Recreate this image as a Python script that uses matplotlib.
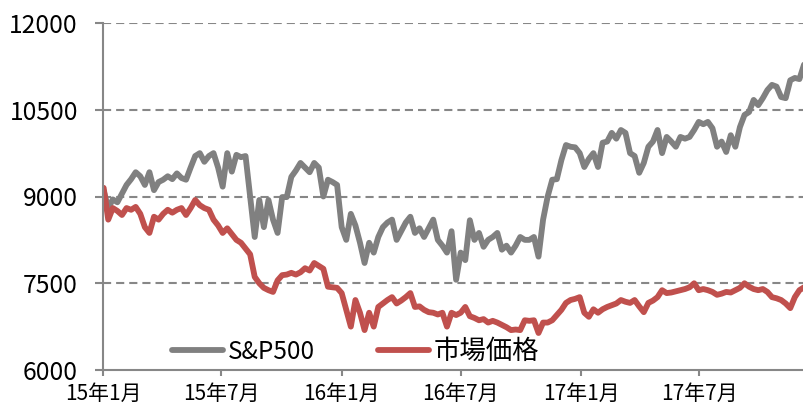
import numpy as np
import pandas as pd
import matplotlib
matplotlib.use("Agg")
import matplotlib.pyplot as plt
import matplotlib.dates as mdates
from matplotlib.ticker import FuncFormatter

plt.rcParams['font.family'] = ['Noto Sans CJK JP', 'DejaVu Sans']

# weekly closes, first Friday of 2015 onwards
start = "2015-01-02"

sp500 = [
    9100, 8800, 8950, 8900, 9050, 9200, 9300, 9420, 9350, 9200,
    9420, 9110, 9250, 9290, 9350, 9300, 9400, 9320, 9290, 9500,
    9700, 9750, 9600, 9700, 9750, 9500, 9170, 9750, 9430, 9720,
    9680, 9700, 9000, 8300, 8940, 8470, 8940, 8600, 8370, 8990,
    8990, 9340, 9450, 9580, 9500, 9420, 9580, 9500, 9000, 9290,
    9250, 9200, 8470, 8250, 8700, 8500, 8200, 7850, 8200, 8030,
    8300, 8470, 8550, 8600, 8250, 8400, 8550, 8650, 8370, 8450,
    8300, 8450, 8600, 8250, 8150, 8030, 8400, 7560, 8030, 7900,
    8590, 8250, 8370, 8130, 8250, 8300, 8370, 8080, 8150, 8030,
    8150, 8300, 8250, 8250, 8300, 7960, 8600, 9000, 9290, 9300,
    9630, 9890, 9860, 9850, 9750, 9510, 9650, 9750, 9510, 9930,
    9950, 10100, 10000, 10150, 10100, 9750, 9700, 9410, 9580, 9860,
    9950, 10150, 9750, 10030, 9950, 9860, 10030, 10000, 10030, 10150,
    10290, 10250, 10290, 10180, 9860, 9950, 9770, 10060, 9860, 10200,
    10410, 10460, 10670, 10580, 10700, 10840, 10930, 10900, 10720, 10700,
    11010, 11050, 11030, 11280,
]

market = [
    9150, 8600, 8800, 8750, 8680, 8800, 8770, 8820, 8700, 8470,
    8370, 8650, 8600, 8700, 8770, 8720, 8770, 8800, 8680, 8800,
    8940, 8850, 8800, 8770, 8600, 8500, 8370, 8450, 8350, 8250,
    8200, 8100, 8000, 7610, 7500, 7420, 7380, 7350, 7550, 7640,
    7650, 7680, 7650, 7690, 7760, 7720, 7850, 7800, 7750, 7440,
    7430, 7420, 7330, 7040, 6750, 7210, 6990, 6690, 6990, 6750,
    7090, 7150, 7210, 7260, 7150, 7200, 7260, 7330, 7090, 7100,
    7040, 7000, 6990, 6960, 6990, 6750, 6990, 6950, 6990, 7090,
    6930, 6900, 6860, 6880, 6820, 6850, 6820, 6780, 6740, 6690,
    6700, 6690, 6860, 6850, 6860, 6640, 6820, 6820, 6860, 6950,
    7040, 7160, 7210, 7230, 7260, 6990, 6920, 7050, 6990, 7050,
    7090, 7120, 7150, 7210, 7180, 7160, 7210, 7100, 7000, 7160,
    7200, 7260, 7380, 7330, 7340, 7360, 7380, 7400, 7430, 7500,
    7380, 7400, 7380, 7350, 7300, 7320, 7350, 7340, 7380, 7420,
    7500, 7440, 7400, 7380, 7400, 7350, 7260, 7240, 7210, 7150,
    7070, 7260, 7380, 7430,
]

names = ["S&P500", "市場価格"]
yticks = [6000, 7500, 9000, 10500, 12000]

dates = pd.date_range(start, periods=len(sp500), freq="7D")

fig = plt.figure(figsize=(8.04, 4.07), dpi=100)
ax = fig.add_axes([103 / 804, 37 / 407, 701 / 804, 347 / 407])

ax.plot(dates, sp500, color="#808080", lw=4.2, label=names[0],
        solid_joinstyle="round", solid_capstyle="round")
ax.plot(dates, market, color="#c0504d", lw=4.2, label=names[1],
        solid_joinstyle="round", solid_capstyle="round")

ax.set_xlim(pd.Timestamp("2015-01-01"), dates[-1])
ax.set_ylim(6000, 12000)
ax.set_yticks(yticks)
ax.yaxis.set_major_formatter(FuncFormatter(lambda v, p: f"{int(v)}"))

ax.xaxis.set_major_locator(mdates.MonthLocator(bymonth=[1, 7]))
ax.xaxis.set_major_formatter(FuncFormatter(
    lambda v, p: f"{mdates.num2date(v).year % 100}年{mdates.num2date(v).month}月"))

grid_col = "#878787"
for y in yticks[1:]:
    ax.axhline(y, color=grid_col, lw=1.5, ls=(0, (3.9, 2.4)), zorder=0)

for s in ["top", "right"]:
    ax.spines[s].set_visible(False)
for s in ["left", "bottom"]:
    ax.spines[s].set_color(grid_col)
    ax.spines[s].set_linewidth(1.5)

ax.tick_params(axis="y", direction="out", length=6, width=1.5, color=grid_col,
               pad=12, labelsize=17.8, labelcolor="black")
ax.tick_params(axis="x", direction="out", length=4, width=1.5, color=grid_col,
               pad=5, labelsize=15, labelcolor="black")

leg = ax.legend(loc="lower left", bbox_to_anchor=(0.098, 0.015), ncol=2,
                frameon=False, fontsize=17.5, handlelength=2.1,
                handletextpad=0.2, columnspacing=2.6,
                borderpad=0, borderaxespad=0)
leg.get_texts()[1].set_fontsize(19)

fig.savefig("out.png", dpi=100)
